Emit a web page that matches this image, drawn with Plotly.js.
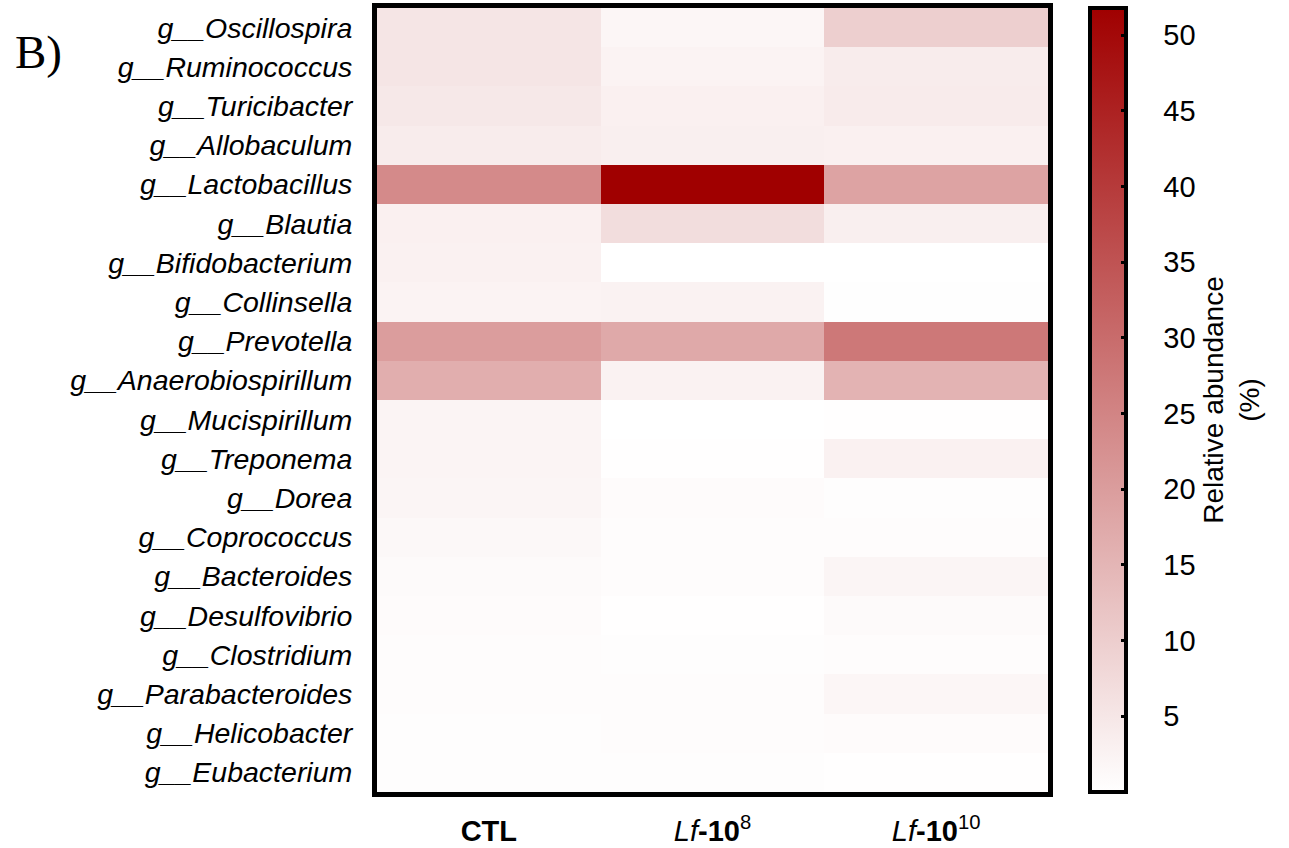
<!DOCTYPE html>
<html>
<head>
<meta charset="utf-8">
<script src="https://cdn.plot.ly/plotly-3.0.1.min.js"></script>
<style>html,body{margin:0;padding:0;background:#fff;}#chart{width:1289px;height:848px;}</style>
</head>
<body>
<div id="chart"></div>
<script>
const genera = ["Oscillospira","Ruminococcus","Turicibacter","Allobaculum","Lactobacillus","Blautia","Bifidobacterium","Collinsella","Prevotella","Anaerobiospirillum","Mucispirillum","Treponema","Dorea","Coprococcus","Bacteroides","Desulfovibrio","Clostridium","Parabacteroides","Helicobacter","Eubacterium"];
const groups = ["CTL","Lf-10^8","Lf-10^10"];
const groupLabels = ["<b>CTL</b>","<i>Lf</i><b>-10</b><sup>8</sup>","<i>Lf</i><b>-10</b><sup>10</sup>"];
const ctl  = [5.3,5.3,4.7,3.9,23.8,3.0,2.8,2.4,19.9,16.5,2.2,2.2,2.0,1.4,1.0,0.8,0.6,0.6,0.4,0.4];
const lf8  = [1.8,2.4,3.0,3.3,51.8,6.9,0.0,2.6,17.5,2.6,0.0,0.2,0.8,0.6,0.6,0.2,0.4,0.6,0.6,0.4];
const lf10 = [9.7,3.9,4.1,3.0,18.7,3.3,0.0,0.3,27.6,15.4,0.2,2.8,0.4,0.6,2.0,1.0,0.6,1.8,0.8,0.2];
const cbTicks = [5,10,15,20,25,30,35,40,45,50];

const z = genera.map((g,i)=>[ctl[i],lf8[i],lf10[i]]);
const yText = genera.map(g=>"<i>g__"+g+"</i>");
const cscale = [[0,"#ffffff"],[0.5,"#d08080"],[1,"#a00000"]];
const cbBase = {
  x:1.0626, xanchor:"left", xpad:0, ypad:0,
  y:0.5, yanchor:"middle", len:1.0, lenmode:"fraction",
  thickness:36, outlinewidth:4, outlinecolor:"#000",
  tickvals:cbTicks
};

const traceMain = {
  type:"heatmap", x: groups, y: genera, z: z, zmin:0, zmax:51.8, colorscale:cscale,
  colorbar:Object.assign({}, cbBase, {
    ticktext:cbTicks.map(v=>"\u2003"+v),
    ticks:"outside", ticklen:1, tickwidth:1, tickcolor:"rgba(0,0,0,0)",
    tickfont:{family:"Liberation Sans, Arial", size:29, color:"#000"},
    title:{text:"Relative abundance<br>(%)", side:"right", font:{family:"Liberation Sans, Arial", size:28, color:"#000"}}
  })
};
const traceTicks = {
  type:"heatmap", x: groups, y: genera, z: z, zmin:0, zmax:51.8, colorscale:cscale, hoverinfo:"skip",
  colorbar:Object.assign({}, cbBase, {
    ticktext:cbTicks.map(String),
    ticks:"inside", ticklen:7, tickwidth:3, tickcolor:"#000", showticklabels:false
  })
};

const layout = {
  width:1289, height:848,
  margin:{l:377, r:241, t:8, b:56},
  paper_bgcolor:"#fff", plot_bgcolor:"#fff",
  xaxis:{
    tickvals:groups, ticktext:groupLabels, ticks:"", showgrid:false, zeroline:false,
    showline:true, mirror:true, linewidth:5, linecolor:"#000",
    tickfont:{family:"Liberation Sans, Arial", size:29, color:"#000"},
    ticklabelstandoff:9
  },
  yaxis:{
    tickvals:genera, ticktext:yText, ticks:"", autorange:"reversed", showgrid:false, zeroline:false,
    showline:true, mirror:true, linewidth:5, linecolor:"#000",
    tickfont:{family:"Liberation Sans, Arial", size:28.5, color:"#000"},
    ticklabelstandoff:14
  },
  annotations:[{
    text:"B)", xref:"paper", yref:"paper", x:-0.543, y:0.944, xanchor:"left", yanchor:"middle",
    showarrow:false, font:{family:"Liberation Serif, Times New Roman", size:47, color:"#000"}
  }]
};

Plotly.newPlot("chart",[traceMain, traceTicks],layout,{displayModeBar:false, responsive:false});
</script>
</body>
</html>
